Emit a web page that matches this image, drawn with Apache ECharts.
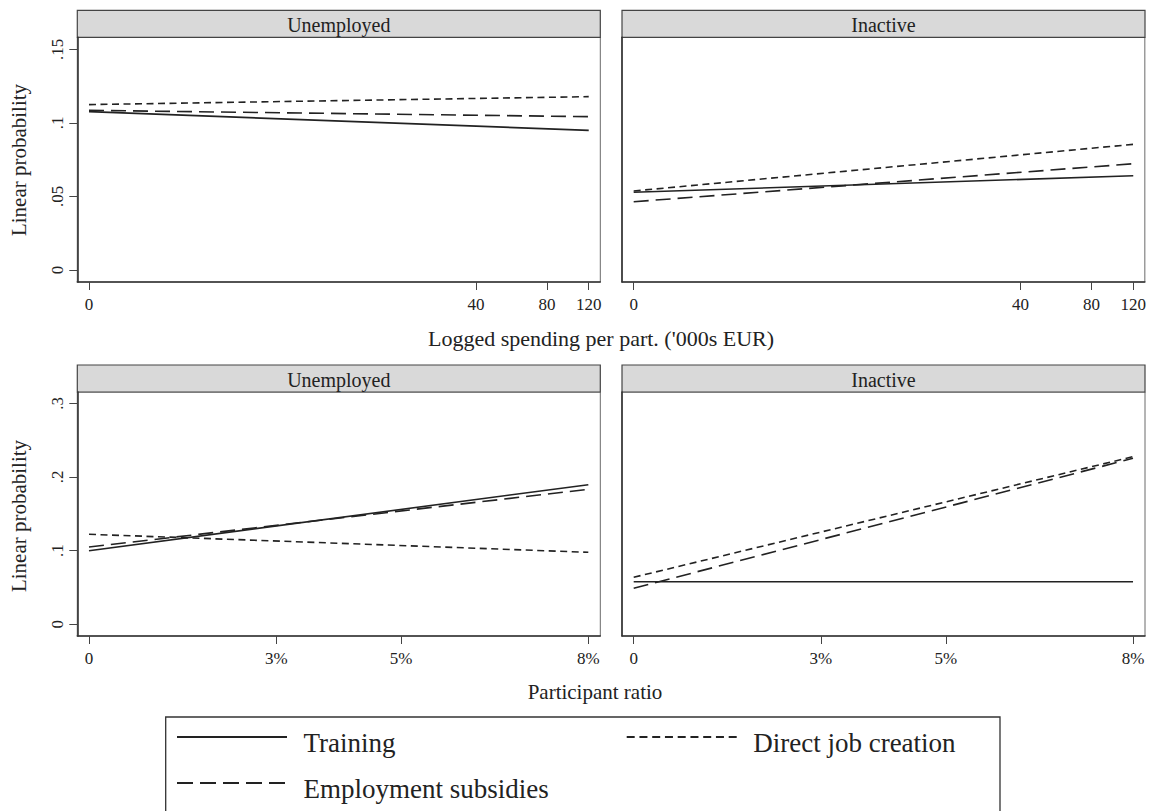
<!DOCTYPE html>
<html>
<head>
<meta charset="utf-8">
<script src="https://cdn.jsdelivr.net/npm/echarts@6/dist/echarts.min.js"></script>
<style>
  html, body { margin: 0; padding: 0; background: #ffffff; }
  #chart { width: 1149px; height: 811px; }
</style>
</head>
<body>
<div id="chart"></div>
<script>
// ---------------- data ----------------
const seriesNames = ['Training', 'Employment subsidies', 'Direct job creation'];
const panelTitles = ['Unemployed', 'Inactive'];

const spendTicks = [0, 40, 80, 120];          // '000s EUR, shown on log(x+1) scale
const spendEnds = [0, 120];
const ratioTicks = [0, 0.03, 0.05, 0.08];
const ratioEnds = [0, 0.08];
const yTicksTop = [0, 0.05, 0.10, 0.15];
const yTicksBottom = [0, 0.1, 0.2, 0.3];

// Logged spending per participant — Unemployed
const spendUnempTraining = [0.1076, 0.0949];
const spendUnempSubsidies = [0.1085, 0.1042];
const spendUnempJobCreation = [0.1124, 0.1178];
// Logged spending per participant — Inactive
const spendInactTraining = [0.0528, 0.0641];
const spendInactSubsidies = [0.0464, 0.0722];
const spendInactJobCreation = [0.0537, 0.0854];
// Participant ratio — Unemployed
const ratioUnempTraining = [0.0999, 0.1895];
const ratioUnempSubsidies = [0.1049, 0.1832];
const ratioUnempJobCreation = [0.1222, 0.0977];
// Participant ratio — Inactive
const ratioInactTraining = [0.0578, 0.0578];
const ratioInactSubsidies = [0.0489, 0.2253];
const ratioInactJobCreation = [0.0638, 0.2275];

// ---------------- styling / layout ----------------
const FONT = 'Liberation Serif';
const INK = '#222222';
const dashTypes = ['solid', [15, 7], [7, 4.5]];
const panelW = 523;
const colLeft = [77.3, 622];
const rowTop = [37.3, 392];
const plotH = [244.7, 244];
const headerH = 27;

const logx = s => Math.log(s + 1);

const chart = echarts.init(document.getElementById('chart'), null, { renderer: 'svg' });

const grids = [], xAxes = [], yAxes = [], series = [], graphics = [];

const panels = [
  { row: 0, col: 0, data: [spendUnempTraining, spendUnempSubsidies, spendUnempJobCreation] },
  { row: 0, col: 1, data: [spendInactTraining, spendInactSubsidies, spendInactJobCreation] },
  { row: 1, col: 0, data: [ratioUnempTraining, ratioUnempSubsidies, ratioUnempJobCreation] },
  { row: 1, col: 1, data: [ratioInactTraining, ratioInactSubsidies, ratioInactJobCreation] }
];

const axisLabelBase = { fontFamily: FONT, fontSize: 17, color: INK };

function txt(text, x, y, size, extra) {
  return Object.assign({
    type: 'text', x: x, y: y, silent: true,
    style: { text: text, fontFamily: FONT, fontSize: size, fill: INK,
      align: 'center', verticalAlign: 'middle' }
  }, extra || {});
}

panels.forEach((p, i) => {
  grids.push({
    left: colLeft[p.col], top: rowTop[p.row], width: panelW, height: plotH[p.row],
    show: true, borderColor: '#6a6a6a', borderWidth: 1, backgroundColor: '#ffffff'
  });
  const isSpend = p.row === 0;
  xAxes.push({
    gridIndex: i, type: 'value',
    min: isSpend ? -0.1123 : -0.001875,
    max: isSpend ? 4.907 : 0.08192,
    axisLine: { show: true, onZero: false, lineStyle: { color: '#333333', width: 1.6 } },
    axisTick: { show: true, length: 8, lineStyle: { color: '#444444', width: 1 },
      customValues: isSpend ? spendTicks.map(logx) : ratioTicks },
    axisLabel: Object.assign({}, axisLabelBase, {
      margin: 14,
      customValues: isSpend ? spendTicks.map(logx) : ratioTicks,
      formatter: isSpend
        ? (v => String(Math.round(Math.exp(v) - 1)))
        : (v => v === 0 ? '0' : Math.round(v * 100) + '%')
    }),
    splitLine: { show: false }
  });
  yAxes.push({
    gridIndex: i, type: 'value',
    min: isSpend ? -0.00815 : -0.0159,
    max: isSpend ? 0.15814 : 0.3153,
    axisLine: { show: true, onZero: false, lineStyle: { color: '#333333', width: 1.6 } },
    axisTick: { show: p.col === 0, length: 8, lineStyle: { color: '#444444', width: 1 },
      customValues: isSpend ? yTicksTop : yTicksBottom },
    axisLabel: Object.assign({}, axisLabelBase, {
      show: p.col === 0,
      rotate: 90,
      margin: 11,
      customValues: isSpend ? yTicksTop : yTicksBottom,
      formatter: v => v === 0 ? '0' : String(Math.round(v * 100) / 100).replace(/^0\./, '.')
    }),
    splitLine: { show: false }
  });
  p.data.forEach((vals, k) => {
    const xs = isSpend ? spendEnds.map(logx) : ratioEnds;
    series.push({
      name: seriesNames[k], type: 'line', xAxisIndex: i, yAxisIndex: i,
      data: xs.map((x, j) => [x, vals[j]]),
      symbol: 'none', silent: true, animation: false,
      lineStyle: { color: INK, width: 1.6, type: dashTypes[k] },
      itemStyle: { color: INK }
    });
  });
  // panel header (facet strip)
  const hx = colLeft[p.col], hy = rowTop[p.row] - headerH;
  graphics.push({
    type: 'rect', shape: { x: hx, y: hy, width: panelW, height: headerH },
    style: { fill: '#d9d9d9', stroke: '#444444', lineWidth: 1.2 }, silent: true
  });
  graphics.push(txt(panelTitles[p.col], hx + panelW / 2, hy + headerH / 2 + 1, 20));
});

// axis titles
graphics.push(txt("Logged spending per part. ('000s EUR)", 601, 338, 22));
graphics.push(txt('Participant ratio', 595, 692, 21));
[160, 516].forEach(cy => {
  graphics.push(txt('Linear probability', 19, cy, 21, { rotation: Math.PI / 2 }));
});

// legend (box + keys + labels)
graphics.push({
  type: 'rect', shape: { x: 165.7, y: 717, width: 834.3, height: 110 },
  style: { fill: 'none', stroke: '#333333', lineWidth: 1.3 }, silent: true, z: -1
});
const legendItems = [
  { x: 177, y: 737, dash: null },
  { x: 177, y: 783, dash: [16, 7] },
  { x: 626.7, y: 737, dash: [8, 4.75] }
];
legendItems.forEach((it, k) => {
  graphics.push({
    type: 'line', silent: true,
    shape: { x1: it.x, y1: it.y, x2: it.x + 110, y2: it.y },
    style: { stroke: INK, lineWidth: 2, lineDash: it.dash }
  });
  graphics.push({
    type: 'text', x: it.x + 126.5, y: it.y + 6, silent: true,
    style: { text: seriesNames[k], fontFamily: FONT, fontSize: 27, fill: INK,
      align: 'left', verticalAlign: 'middle' }
  });
});

chart.setOption({
  animation: false,
  backgroundColor: '#ffffff',
  grid: grids, xAxis: xAxes, yAxis: yAxes, series: series,
  graphic: graphics
});
</script>
</body>
</html>
